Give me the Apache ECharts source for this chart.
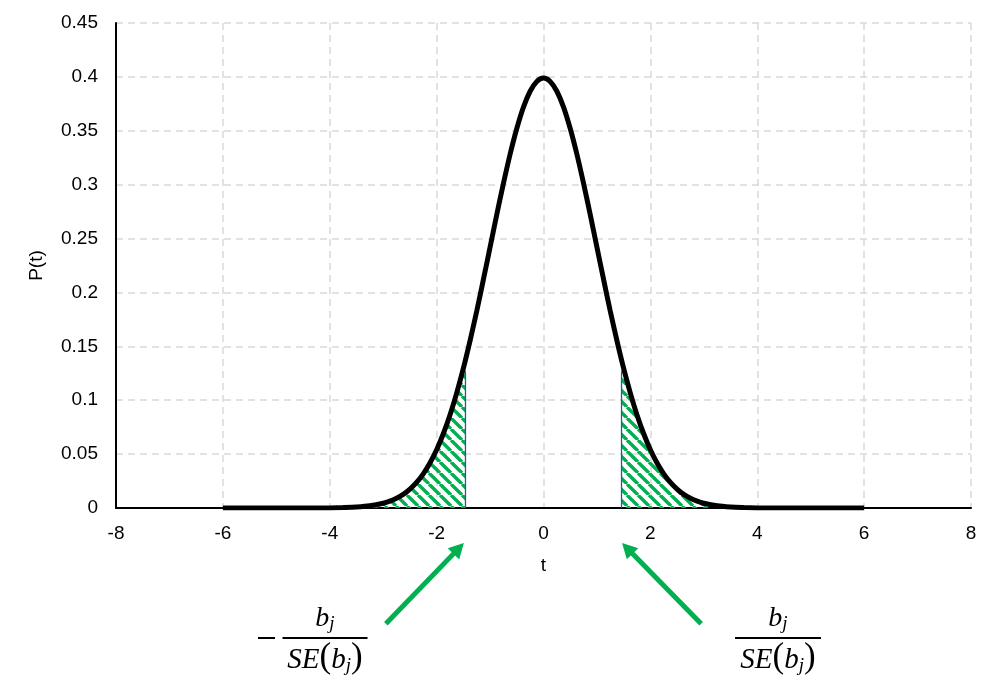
<!DOCTYPE html>
<html>
<head>
<meta charset="utf-8">
<script src="https://cdn.jsdelivr.net/npm/echarts@6/dist/echarts.min.js"></script>
<style>
html,body{margin:0;padding:0;background:#fff;}
#chart{width:1000px;height:691px;}
</style>
</head>
<body>
<div id="chart"></div>
<script>
// ---- data ----
const tValues = [-6,-5.75,-5.5,-5.25,-5,-4.75,-4.5,-4.25,-4,-3.75,-3.5,-3.25,
  -3,-2.875,-2.75,-2.625,-2.5,-2.375,-2.25,-2.125,-2,-1.875,-1.75,-1.625,-1.5,-1.375,-1.25,-1.125,-1,-0.875,-0.75,-0.625,-0.5,-0.375,-0.25,-0.125,
  0,0.125,0.25,0.375,0.5,0.625,0.75,0.875,1,1.125,1.25,1.375,1.5,1.625,1.75,1.875,2,2.125,2.25,2.375,2.5,2.625,2.75,2.875,3,
  3.25,3.5,3.75,4,4.25,4.5,4.75,5,5.25,5.5,5.75,6];
const density = [0,0,0,0,0,0,0,0,0.0001,0.0004,0.0009,0.002,
  0.0044,0.0064,0.0091,0.0126,0.0175,0.0237,0.0317,0.0417,0.054,0.0689,0.0863,0.1066,0.1295,0.1551,0.1826,0.2119,0.242,0.2721,0.3011,0.3282,0.3521,0.372,0.3867,0.3958,
  0.3989,0.3958,0.3867,0.372,0.3521,0.3282,0.3011,0.2721,0.242,0.2119,0.1826,0.1551,0.1295,0.1066,0.0863,0.0689,0.054,0.0417,0.0317,0.0237,0.0175,0.0126,0.0091,0.0064,0.0044,
  0.002,0.0009,0.0004,0.0001,0,0,0,0,0,0,0,0];
const cutoff = 1.46;          // critical value b_j / SE(b_j)
const cutoffDensity = 0.125;  // height of shaded edge
const xTicks = [-8,-6,-4,-2,0,2,4,6,8];
const yTicks = [0,0.05,0.1,0.15,0.2,0.25,0.3,0.35,0.4,0.45];

// ---- build series data ----
const curve = tValues.map((t,i)=>[t,density[i]]);
const leftTail = curve.filter(p=>p[0] <= -cutoff).concat([[-cutoff,cutoffDensity],[-cutoff,0]]);
const rightTail = [[cutoff,0],[cutoff,cutoffDensity]].concat(curve.filter(p=>p[0] >= cutoff));

// hatch pattern
function hatch(){
  const c = document.createElement('canvas');
  const s = 11; c.width = s; c.height = s;
  const g = c.getContext('2d');
  g.strokeStyle = '#00b050'; g.lineWidth = 3.4;
  g.beginPath();
  for (let k=-1;k<=1;k++){ g.moveTo(k*s, 0); g.lineTo(k*s+s, s); }
  g.stroke();
  return c;
}
const pattern = {image: hatch(), repeat: 'repeat'};

const chart = echarts.init(document.getElementById('chart'));
const font = 'Arial, "Liberation Sans", sans-serif';
const fs = 19;
const tailSeries = (data)=>({
  type:'line', data, showSymbol:false, smooth:0.3, z:2,
  lineStyle:{color:'#2f5597', width:1.3},
  areaStyle:{color:pattern, opacity:1},
  silent:true
});
chart.setOption({
  animation:false,
  backgroundColor:'#fff',
  grid:{left:116, right:29, top:23, bottom:183},
  xAxis:{
    type:'value', min:-8, max:8, interval:2,
    name:'t', nameLocation:'middle', nameGap:48,
    nameTextStyle:{fontFamily:font, fontSize:fs, color:'#000'},
    axisLine:{onZero:false, lineStyle:{color:'#000', width:2}},
    axisTick:{show:false},
    axisLabel:{fontFamily:font, fontSize:fs, color:'#000', margin:16,
      formatter:v=> xTicks.includes(v) ? String(v) : ''},
    splitLine:{show:true, lineStyle:{color:'#d9d9d9', width:1.5, type:[7,5]}}
  },
  yAxis:{
    type:'value', min:0, max:0.45, interval:0.05,
    name:'P(t)', nameLocation:'middle', nameGap:70, nameRotate:90,
    nameTextStyle:{fontFamily:font, fontSize:fs, color:'#000'},
    axisLine:{show:true, onZero:false, lineStyle:{color:'#000', width:2}},
    axisTick:{show:false},
    axisLabel:{fontFamily:font, fontSize:fs, color:'#000', margin:18,
      formatter:v=>{const f=yTicks.find(y=>Math.abs(y-v)<1e-9); return f===undefined?'':String(f);}},
    splitLine:{show:true, lineStyle:{color:'#d9d9d9', width:1.5, type:[7,5]}}
  },
  series:[
    tailSeries(leftTail),
    tailSeries(rightTail),
    {type:'line', data:curve, showSymbol:false, smooth:0.3, z:5,
     lineStyle:{color:'#000', width:5}, silent:true}
  ]
});

// ---- annotations: arrows and formulas ----
function px(t,p){ return chart.convertToPixel({gridIndex:0},[t,p]); }
function arrow(tail, tip){
  const dx = tip[0]-tail[0], dy = tip[1]-tail[1];
  const L = Math.hypot(dx,dy), ux = dx/L, uy = dy/L;
  const hl = 15, hw = 8;
  const base = [tip[0]-ux*hl, tip[1]-uy*hl];
  return [
    {type:'line', shape:{x1:tail[0], y1:tail[1], x2:base[0]+ux*2, y2:base[1]+uy*2},
     style:{stroke:'#00b050', lineWidth:5}},
    {type:'polygon', shape:{points:[tip,[base[0]-uy*hw, base[1]+ux*hw],[base[0]+uy*hw, base[1]-ux*hw]]},
     style:{fill:'#00b050'}}
  ];
}
const tailL = px(-2.95,-0.1075), tipL = px(-1.49,-0.0325);
const tailR = px(2.95,-0.1075), tipR = px(1.47,-0.0325);
const mathFont = '"Liberation Serif", "DejaVu Serif", serif';
function fraction(cx, top, barW){
  const g = [];
  g.push({type:'text', x:cx, y:top, style:{text:'{b|b}{s|j}', align:'center', verticalAlign:'top',
    rich:{b:{fontFamily:mathFont, fontStyle:'italic', fontSize:28, fill:'#000', verticalAlign:'bottom'},
          s:{fontFamily:mathFont, fontStyle:'italic', fontSize:19, fill:'#000', padding:[10,0,0,0], verticalAlign:'bottom'}}}});
  g.push({type:'line', shape:{x1:cx-barW/2, y1:top+34, x2:cx+barW/2, y2:top+34}, style:{stroke:'#000', lineWidth:2}});
  g.push({type:'text', x:cx, y:top+36, style:{text:'{t|SE}{p|(}{t|b}{s|j}{p|)}', align:'center', verticalAlign:'top',
    rich:{t:{fontFamily:mathFont, fontStyle:'italic', fontSize:29, fill:'#000', verticalAlign:'bottom'},
          p:{fontFamily:mathFont, fontSize:35, fill:'#000', verticalAlign:'bottom'},
          s:{fontFamily:mathFont, fontStyle:'italic', fontSize:19, fill:'#000', padding:[10,0,0,0], verticalAlign:'bottom'}}}});
  return g;
}
let elements = [].concat(arrow(tailL, tipL), arrow(tailR, tipR));
elements = elements.concat(fraction(325, 604, 85));
elements.push({type:'line', shape:{x1:258, y1:638, x2:275, y2:638}, style:{stroke:'#000', lineWidth:2}});
elements = elements.concat(fraction(778, 604, 86));
chart.setOption({graphic:{elements}});
</script>
</body>
</html>
